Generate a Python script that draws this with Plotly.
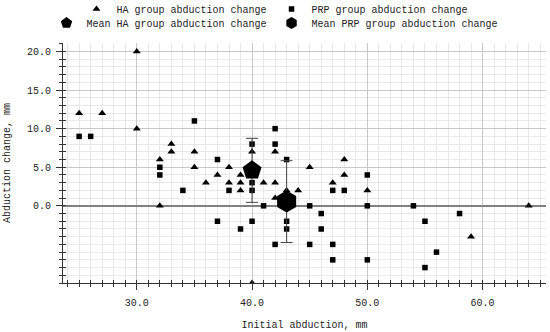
import plotly.graph_objects as go

# ---- data ----
ha_x = [25, 27, 30, 30, 32, 32, 33, 33, 35, 35, 36, 37, 38, 38, 39, 39, 39, 40, 40, 41, 42, 42, 42, 43, 44, 45, 47, 48, 48, 50, 59, 64]
ha_y = [12, 12, 20, 10, 6, 0, 8, 7, 7, 5, 3, 4, 5, 3, 4, 3, 2, 7, -10, 3, 7, 3, 1, 2, 2, 5, 3, 6, 4, 2, -4, 0]

prp_x = [25, 26, 32, 32, 34, 35, 37, 37, 38, 39, 40, 40, 40, 40, 41, 42, 42, 42, 43, 43, 43, 45, 45, 46, 46, 47, 47, 47, 48, 50, 50, 50, 54, 55, 55, 56, 58]
prp_y = [9, 9, 5, 4, 2, 11, 6, -2, 2, -3, 8, 3, 2, -2, 0, 10, 8, -5, 6, -2, -3, 0, -5, -1, -3, 2, -5, -7, 2, 4, 0, -7, 0, -2, -8, -6, -1]

mean_ha_x = [40.0]
mean_ha_y = [4.6]
mean_ha_err = [4.15]

mean_prp_x = [43.0]
mean_prp_y = [0.55]
mean_prp_err = [5.3]

y_tickvals = [0, 5, 10, 15, 20]

FONT = "Liberation Mono, Courier New, monospace"
AX = "#333333"

fig = go.Figure()
fig.add_trace(go.Scatter(x=ha_x, y=ha_y, mode="markers", name="HA group abduction change",
                         marker=dict(symbol="triangle-up", size=7, color="black"), legend="legend"))
fig.add_trace(go.Scatter(x=prp_x, y=prp_y, mode="markers", name="PRP group abduction change",
                         marker=dict(symbol="square", size=5.5, color="black"), legend="legend"))
fig.add_trace(go.Scatter(x=mean_ha_x, y=mean_ha_y, mode="markers", name="Mean HA group abduction change",
                         marker=dict(symbol="pentagon", size=20, color="black"),
                         error_y=dict(type="data", array=mean_ha_err, color="#444", thickness=1, width=6),
                         legend="legend2"))
fig.add_trace(go.Scatter(x=mean_prp_x, y=mean_prp_y, mode="markers", name="Mean PRP group abduction change",
                         marker=dict(symbol="hexagon", size=22, color="black"),
                         error_y=dict(type="data", array=mean_prp_err, color="#444", thickness=1, width=6),
                         legend="legend2"))
# dummy trace for the overlay axes (inside half of crossing ticks)
fig.add_trace(go.Scatter(x=[None], y=[None], xaxis="x2", yaxis="y2", showlegend=False, hoverinfo="skip"))

XR = [23.6, 65.5]
YR = [-10, 21.1]

fig.update_layout(
    width=550, height=332,
    margin=dict(l=63, r=4, t=43, b=49, autoexpand=False),
    paper_bgcolor="white", plot_bgcolor="white",
    font=dict(family=FONT, size=10, color="#222"),
    xaxis=dict(range=XR, tick0=0, dtick=10, tickformat=".1f", ticks="outside", ticklen=6,
               tickcolor=AX, showline=True, linecolor=AX, linewidth=1, gridcolor="#c8c8c8",
               zeroline=False, automargin=False, ticklabelstandoff=4,
               minor=dict(dtick=1, tick0=0, ticks="outside", ticklen=3, tickcolor=AX,
                          showgrid=True, gridcolor="#e8e8e8"),
               title=dict(text="Initial abduction, mm", font=dict(family=FONT, size=10), standoff=12)),
    yaxis=dict(range=YR, tickmode="array", tickvals=y_tickvals, tickformat=".1f", ticks="outside",
               ticklen=6, tickcolor=AX, showline=True, linecolor=AX, linewidth=1, gridcolor="#c8c8c8",
               zeroline=True, zerolinecolor="#808080", zerolinewidth=1.5, automargin=False,
               ticklabelstandoff=3,
               minor=dict(dtick=1, tick0=0, ticks="outside", ticklen=3, tickcolor=AX,
                          showgrid=True, gridcolor="#e8e8e8"),
               title=dict(text="Abduction change, mm", font=dict(family=FONT, size=10), standoff=14)),
    xaxis2=dict(range=XR, overlaying="x", anchor="y2", side="bottom", tick0=0, dtick=1, ticks="inside",
                ticklen=3, tickcolor=AX, showticklabels=False, showgrid=False, zeroline=False,
                showline=False, automargin=False),
    yaxis2=dict(range=YR, overlaying="y", anchor="x2", side="left", tick0=0, dtick=1, ticks="inside",
                ticklen=3, tickcolor=AX, showticklabels=False, showgrid=False, zeroline=False,
                showline=False, automargin=False),
    legend=dict(orientation="h", xref="container", yref="container", x=0.5, xanchor="center",
                y=1 - 9 / 332, yanchor="middle", font=dict(family=FONT, size=10, color="#222"),
                bgcolor="rgba(0,0,0,0)", itemwidth=30, tracegroupgap=0),
    legend2=dict(orientation="h", xref="container", yref="container", x=0.5, xanchor="center",
                 y=1 - 23 / 332, yanchor="middle", font=dict(family=FONT, size=10, color="#222"),
                 bgcolor="rgba(0,0,0,0)", itemwidth=30, tracegroupgap=0, itemsizing="constant"),
    showlegend=True,
)

fig.write_html("out.html", config={"displayModeBar": False},
               post_script="document.body.style.margin='0px';")
